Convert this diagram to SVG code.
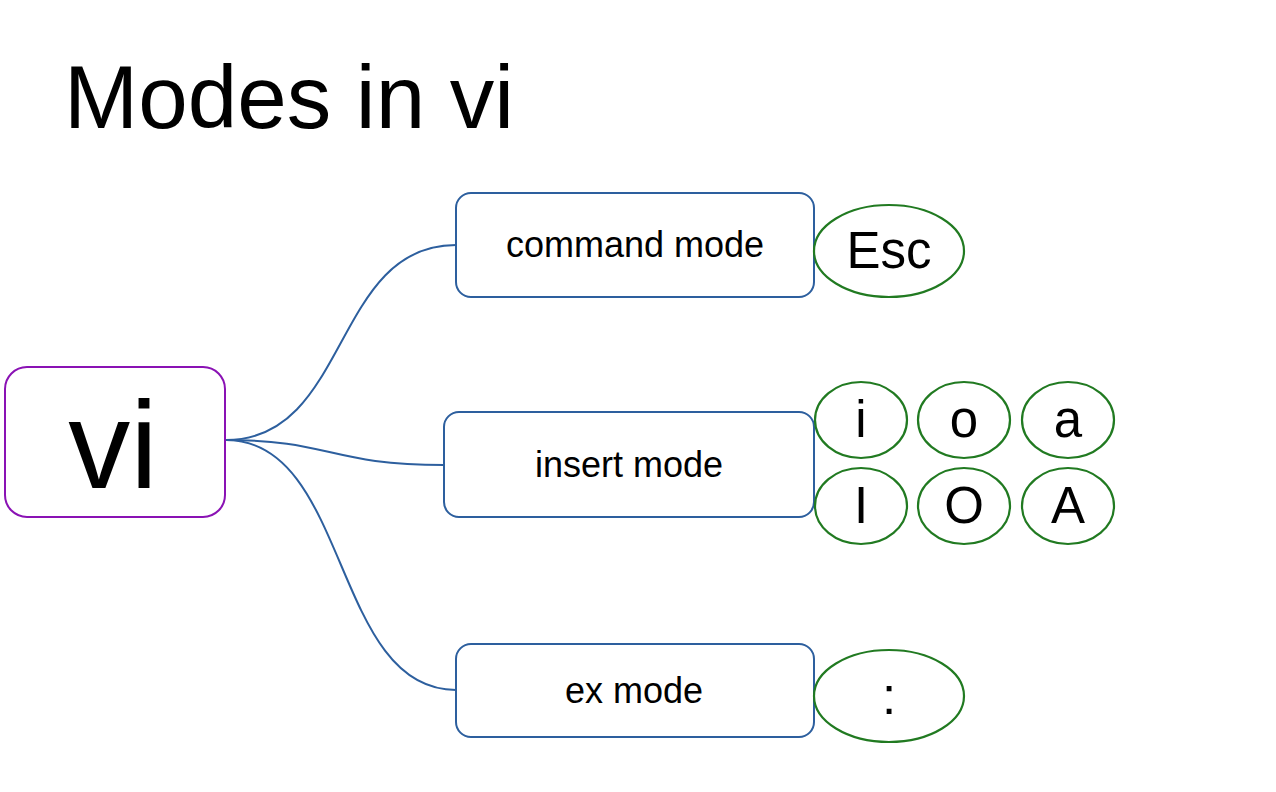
<svg xmlns="http://www.w3.org/2000/svg" width="1276" height="792" viewBox="0 0 1276 792">
<style>
text{font-family:"Liberation Sans",Arial,sans-serif;fill:#000;text-anchor:middle}
.mode{fill:#fff;stroke:#2d5f9e;stroke-width:2}
.key{fill:#fff;stroke:#217a21;stroke-width:2.2}
.conn{fill:none;stroke:#2d5f9e;stroke-width:2}
.lbl{font-size:36px}
.k{font-size:51px}
</style>
<rect width="1276" height="792" fill="#fff"/>
<text x="64" y="128" font-size="89" style="text-anchor:start">Modes in vi</text>
<g id="connectors">
<path class="conn" d="M226,440 C350,440 332,245 456,245"/>
<path class="conn" d="M226,440 C330,440 330,465 444,465"/>
<path class="conn" d="M226,440 C350,440 332,690 456,690"/>
</g>
<g id="vi">
<rect x="5" y="367" width="220" height="150" rx="22" fill="#fff" stroke="#8a12b4" stroke-width="2"/>
<text x="113" y="488" font-size="124">vi</text>
</g>
<g id="command-mode">
<rect class="mode" x="456" y="193" width="358" height="104" rx="15"/>
<text class="lbl" x="635" y="257">command mode</text>
</g>
<g id="insert-mode">
<rect class="mode" x="444" y="412" width="370" height="105" rx="15"/>
<text class="lbl" x="629" y="477">insert mode</text>
</g>
<g id="ex-mode">
<rect class="mode" x="456" y="644" width="358" height="93" rx="15"/>
<text class="lbl" x="634" y="703">ex mode</text>
</g>
<g id="key-esc">
<ellipse class="key" cx="889" cy="251" rx="75" ry="46"/>
<text class="k" x="889" y="268">Esc</text>
</g>
<g id="key-i">
<ellipse class="key" cx="861" cy="420" rx="46" ry="38"/>
<text class="k" x="861" y="437">i</text>
</g>
<g id="key-o">
<ellipse class="key" cx="964" cy="420" rx="46" ry="38"/>
<text class="k" x="964" y="437">o</text>
</g>
<g id="key-a">
<ellipse class="key" cx="1068" cy="420" rx="46" ry="38"/>
<text class="k" x="1068" y="437">a</text>
</g>
<g id="key-I">
<ellipse class="key" cx="861" cy="506" rx="46" ry="38"/>
<text class="k" x="861" y="523">I</text>
</g>
<g id="key-O">
<ellipse class="key" cx="964" cy="506" rx="46" ry="38"/>
<text class="k" x="964" y="523">O</text>
</g>
<g id="key-A">
<ellipse class="key" cx="1068" cy="506" rx="46" ry="38"/>
<text class="k" x="1068" y="523">A</text>
</g>
<g id="key-colon">
<ellipse class="key" cx="889" cy="696" rx="75" ry="46"/>
<text class="k" x="889" y="714">:</text>
</g>
</svg>
